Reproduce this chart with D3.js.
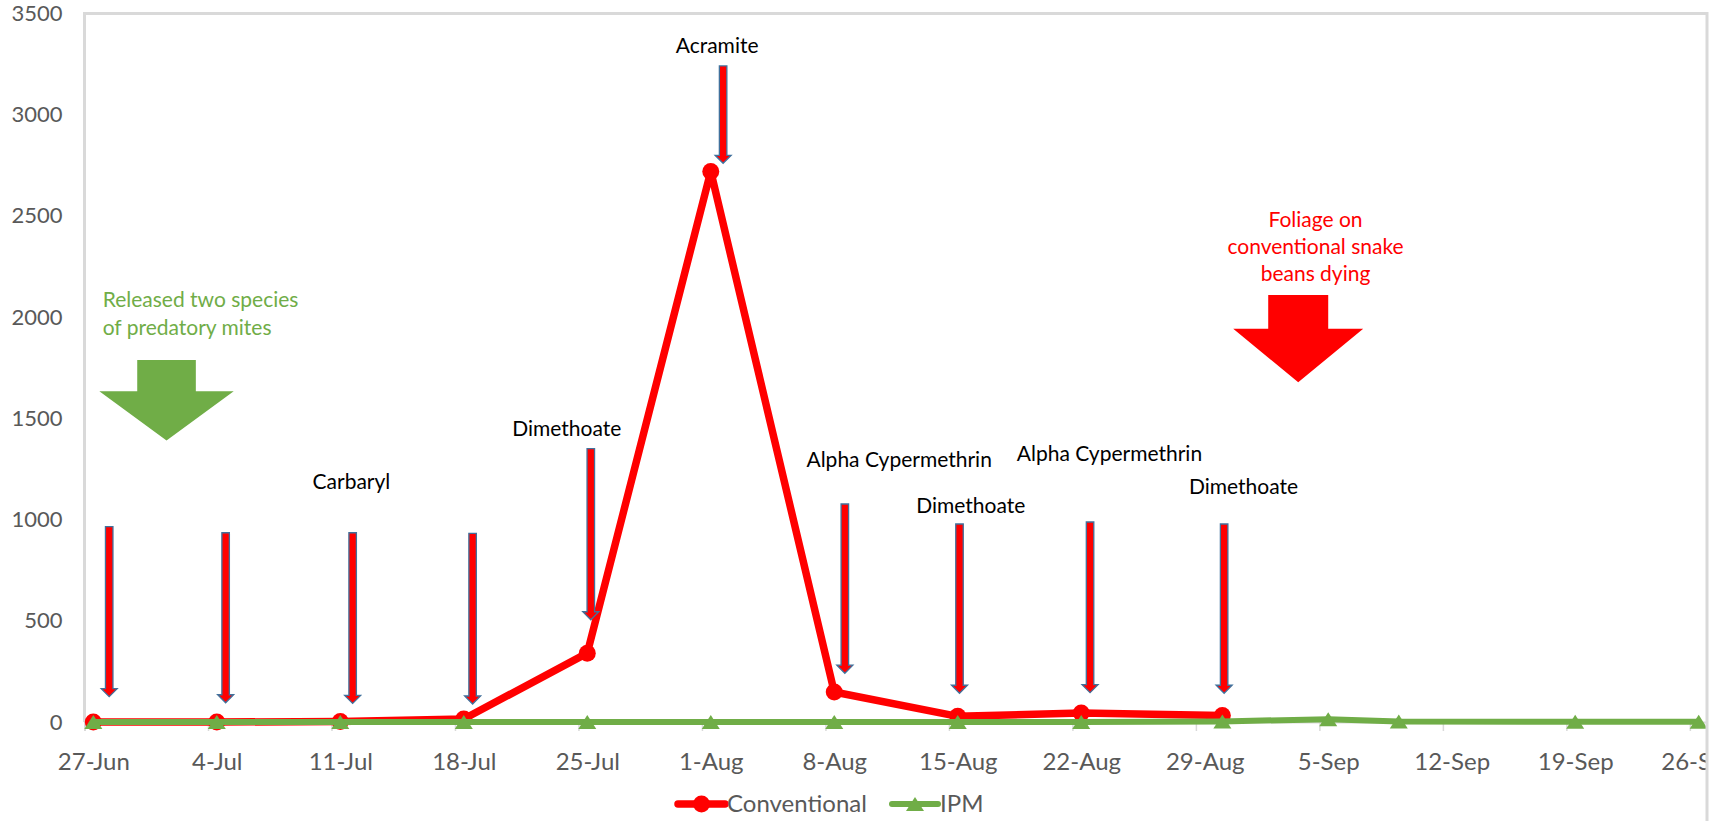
<!DOCTYPE html>
<html>
<head>
<meta charset="utf-8">
<script src="https://cdn.jsdelivr.net/npm/d3@7"></script>
<style>
  html, body { margin: 0; padding: 0; background: #ffffff; }
  svg { display: block; font-family: Lato, "Open Sans", sans-serif; }
</style>
</head>
<body>
<svg id="chart" width="1729" height="821"></svg>
<script>
// ---- Mite counts per sampling date ----
const conventionalDates  = ["27-Jun","4-Jul","11-Jul","18-Jul","25-Jul","1-Aug","8-Aug","15-Aug","22-Aug","30-Aug"];
const conventionalValues = [0, 0, 2, 15, 340, 2720, 148, 28, 44, 32];

const ipmDates  = ["27-Jun","4-Jul","11-Jul","18-Jul","25-Jul","1-Aug","8-Aug","15-Aug","22-Aug","30-Aug","5-Sep","9-Sep","19-Sep","26-Sep"];
const ipmValues = [0, 0, 0, 0, 0, 0, 0, 0, 0, 3, 14, 2, 1, 1];

const seriesNames = ["Conventional", "IPM"];

// ---- Axis ticks ----
const xTickLabels = ["27-Jun","4-Jul","11-Jul","18-Jul","25-Jul","1-Aug","8-Aug","15-Aug","22-Aug","29-Aug","5-Sep","12-Sep","19-Sep","26-Sep"];
const yTickValues = [0, 500, 1000, 1500, 2000, 2500, 3000, 3500];

// ---- Pesticide sprays on the conventional plot (days after 27-Jun, counts scale) ----
const sprayDays      = [0.9, 7.5, 14.7, 21.5, 28.2, 35.7, 42.6, 49.1, 56.5, 64.1];
const sprayArrowTop  = [965, 935, 935, 932, 1350, 3241, 1077, 978, 988, 978];
const sprayArrowTip  = [125, 95, 92, 89, 505, 2760, 241, 142, 145, 142];
const sprayLabels    = ["Carbaryl", "Dimethoate", "Acramite", "Alpha Cypermethrin", "Dimethoate", "Alpha Cypermethrin", "Dimethoate"];
const sprayLabelDays = [14.63, 26.84, 35.36, 45.68, 49.74, 57.6, 65.2];
const sprayLabelY    = [1153, 1415, 3307, 1261, 1031, 1291, 1126];

// ---- Event notes ----
const releaseNote  = ["Released two species", "of predatory mites"];
const releaseNoteDay = 0.53, releaseNoteY = [2050, 1912];
const releaseArrow = { day: 4.15, top: 1788, shoulder: 1634, tip: 1390 };

const foliageNote  = ["Foliage on", "conventional snake", "beans dying"];
const foliageNoteDay = 69.28, foliageNoteY = [2447, 2312, 2179];
const foliageArrow = { day: 68.3, top: 2110, shoulder: 1943, tip: 1678 };

// ---- Layout & style ----
const W = 1729, H = 821;
const plot = { left: 84.5, right: 1707.5, top: 13.5, bottom: 722 };
const RED = "#FF0000", GREEN = "#70AD47", AXIS_TEXT = "#595959", FRAME = "#D9D9D9", ARROW_EDGE = "#41719C";

const parse = s => d3.utcParse("%d-%b-%Y")(s + "-2013");
const DAY = 864e5;
const start = parse(xTickLabels[0]);
const end = parse(xTickLabels[xTickLabels.length - 1]);

// Each day occupies a band; points sit in the middle of their day
const x = d3.scaleUtc()
  .domain([new Date(+start - DAY / 2), new Date(+end + DAY / 2)])
  .range([plot.left, plot.right]);
const y = d3.scaleLinear().domain([0, 3500]).range([plot.bottom, plot.top]);
const dayX = d => x(new Date(+start + d * DAY));

const svg = d3.select("#chart");
svg.append("rect").attr("width", W).attr("height", H).attr("fill", "#fff");

const defs = svg.append("defs");
defs.append("clipPath").attr("id", "frameClip")
  .append("rect").attr("x", 0).attr("y", 0).attr("width", 1706).attr("height", H);

const root = svg.append("g").attr("clip-path", "url(#frameClip)");

// Y axis
const yAxis = root.append("g")
  .attr("transform", `translate(${plot.left},0)`)
  .call(d3.axisLeft(y).tickValues(yTickValues).tickSize(0).tickPadding(22).tickFormat(d3.format("d")));
yAxis.select(".domain").remove();
yAxis.selectAll("text")
  .attr("fill", AXIS_TEXT).attr("font-size", 22).attr("font-family", "Lato, sans-serif");

// X axis tick marks at week boundaries
const weekBounds = xTickLabels.map(s => new Date(+parse(s) - DAY / 2));
const xMarks = root.append("g")
  .attr("transform", `translate(0,${plot.bottom})`)
  .call(d3.axisBottom(x).tickValues(weekBounds).tickSize(9).tickFormat(""));
xMarks.select(".domain").attr("stroke", FRAME).attr("stroke-width", 2);
xMarks.selectAll(".tick line").attr("stroke", FRAME).attr("stroke-width", 1.5);

// X axis labels
const xAxis = root.append("g")
  .attr("transform", `translate(0,${plot.bottom})`)
  .call(d3.axisBottom(x).tickValues(xTickLabels.map(parse)).tickSize(0).tickPadding(31)
    .tickFormat(d3.utcFormat("%-d-%b")));
xAxis.select(".domain").remove();
xAxis.selectAll("text")
  .attr("fill", AXIS_TEXT).attr("font-size", 24).attr("font-family", "Lato, sans-serif");

// Frame lines
root.append("line").attr("x1", plot.left).attr("x2", 1707).attr("y1", y(3500)).attr("y2", y(3500))
  .attr("stroke", FRAME).attr("stroke-width", 3);
root.append("line").attr("x1", plot.left).attr("x2", plot.left).attr("y1", y(3500) - 1.5).attr("y2", plot.bottom)
  .attr("stroke", FRAME).attr("stroke-width", 3);
svg.append("line").attr("x1", 1707).attr("x2", 1707).attr("y1", y(3500) - 1.5).attr("y2", H)
  .attr("stroke", FRAME).attr("stroke-width", 3);

// Series
const conventional = conventionalDates.map((d, i) => ({ date: parse(d), value: conventionalValues[i] }));
const ipm = ipmDates.map((d, i) => ({ date: parse(d), value: ipmValues[i] }));
const line = d3.line().x(d => x(d.date)).y(d => y(d.value));

const triPath = (w, h) => `M0,${-h / 2}L${w / 2},${h / 2}L${-w / 2},${h / 2}Z`;

const series = root.append("g");
series.append("path").datum(conventional).attr("d", line)
  .attr("fill", "none").attr("stroke", RED).attr("stroke-width", 7.5)
  .attr("stroke-linejoin", "round").attr("stroke-linecap", "round");
series.selectAll("circle.conv").data(conventional).join("circle").attr("class", "conv")
  .attr("cx", d => x(d.date)).attr("cy", d => y(d.value)).attr("r", 8.5).attr("fill", RED);

series.append("path").datum(ipm).attr("d", line)
  .attr("fill", "none").attr("stroke", GREEN).attr("stroke-width", 6)
  .attr("stroke-linejoin", "round").attr("stroke-linecap", "round");
series.selectAll("path.ipm").data(ipm).join("path").attr("class", "ipm")
  .attr("transform", d => `translate(${x(d.date)},${y(d.value)})`)
  .attr("d", triPath(18, 14)).attr("fill", GREEN);

// Spray arrows
const sprayArrow = (cx, top, tip) => {
  const sw = 3.75, hw = 8, hl = 8;
  return `M${cx - sw},${top}L${cx + sw},${top}L${cx + sw},${tip - hl}L${cx + hw},${tip - hl}` +
         `L${cx},${tip}L${cx - hw},${tip - hl}L${cx - sw},${tip - hl}Z`;
};
root.append("g").selectAll("path").data(sprayDays).join("path")
  .attr("d", (d, i) => sprayArrow(dayX(d), y(sprayArrowTop[i]), y(sprayArrowTip[i])))
  .attr("fill", RED).attr("stroke", ARROW_EDGE).attr("stroke-width", 1.3);

root.append("g").selectAll("text").data(sprayLabels).join("text")
  .attr("x", (d, i) => dayX(sprayLabelDays[i])).attr("y", (d, i) => y(sprayLabelY[i]))
  .attr("text-anchor", "middle").attr("font-size", 21).attr("fill", "#000")
  .text(d => d);

// Block arrows
const blockArrow = (a, shaftHalf, headHalf) => {
  const cx = dayX(a.day), t = y(a.top), s = y(a.shoulder), p = y(a.tip);
  return `M${cx - shaftHalf},${t}L${cx + shaftHalf},${t}L${cx + shaftHalf},${s}L${cx + headHalf},${s}` +
         `L${cx},${p}L${cx - headHalf},${s}L${cx - shaftHalf},${s}Z`;
};
root.append("path").attr("d", blockArrow(releaseArrow, 29.3, 67.2)).attr("fill", GREEN);
root.append("path").attr("d", blockArrow(foliageArrow, 30, 65)).attr("fill", RED);

root.append("g").selectAll("text").data(releaseNote).join("text")
  .attr("x", dayX(releaseNoteDay)).attr("y", (d, i) => y(releaseNoteY[i]))
  .attr("font-size", 21).attr("fill", GREEN).text(d => d);

root.append("g").selectAll("text").data(foliageNote).join("text")
  .attr("x", dayX(foliageNoteDay)).attr("y", (d, i) => y(foliageNoteY[i]))
  .attr("text-anchor", "middle").attr("font-size", 21).attr("fill", RED).text(d => d);

// Legend
const legend = svg.append("g").attr("transform", "translate(0,804)");
const legendItems = [
  { name: seriesNames[0], color: RED, x0: 678, x1: 725, width: 7.5, marker: "circle" },
  { name: seriesNames[1], color: GREEN, x0: 892, x1: 938, width: 6, marker: "triangle" }
];
legendItems.forEach(it => {
  const g = legend.append("g");
  g.append("line").attr("x1", it.x0).attr("x2", it.x1).attr("y1", 0).attr("y2", 0)
    .attr("stroke", it.color).attr("stroke-width", it.width).attr("stroke-linecap", "round");
  const mx = (it.x0 + it.x1) / 2;
  if (it.marker === "circle") {
    g.append("circle").attr("cx", mx).attr("cy", 0).attr("r", 8.5).attr("fill", it.color);
  } else {
    g.append("path").attr("transform", `translate(${mx},0)`).attr("d", triPath(18, 14)).attr("fill", it.color);
  }
  g.append("text").attr("x", it.x1 + 2).attr("y", 0).attr("dy", "0.32em")
    .attr("font-size", 24).attr("fill", AXIS_TEXT).text(it.name);
});
</script>
</body>
</html>
